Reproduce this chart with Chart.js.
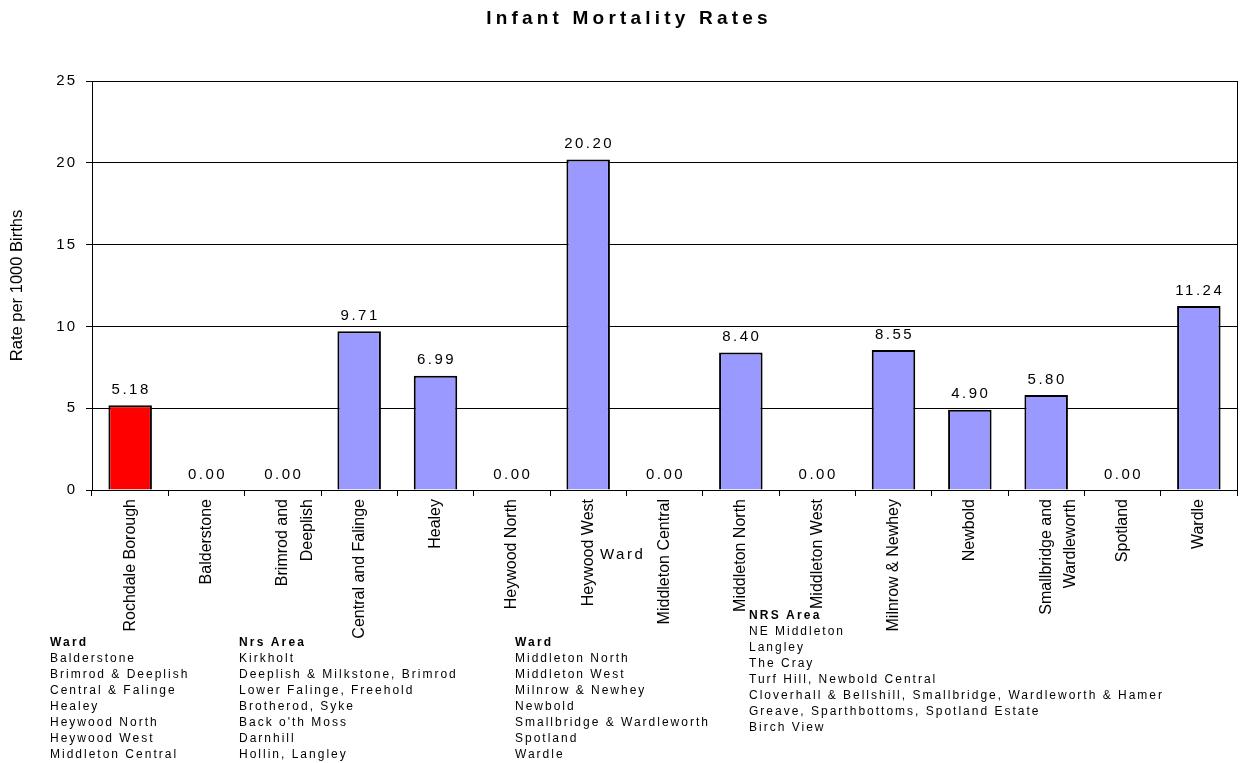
<!DOCTYPE html>
<html>
<head>
<meta charset="utf-8">
<script src="https://cdn.jsdelivr.net/npm/chart.js@4/dist/chart.umd.min.js"></script>
<style>
  body { margin: 0; background: #fff; font-family: "Liberation Sans", Arial, sans-serif; }
  #wrap { position: relative; width: 1242px; height: 763px; overflow: hidden; }
  #chart { position: absolute; left: 0; top: 0; }
  .title { position: absolute; top: 7px; left: 0; width: 1258px; text-align: center;
           font-weight: bold; font-size: 19px; letter-spacing: 4.2px; color: #000; }
  .axisname { position: absolute; left: 600px; top: 545px; font-size: 15px; letter-spacing: 2.5px; color: #000; }
  .key { position: absolute; font-size: 12px; line-height: 16px; letter-spacing: 2px; color: #000; white-space: nowrap; }
  .key b { letter-spacing: 2.2px; }
</style>
</head>
<body>
<div id="wrap">
  <canvas id="chart" width="1242" height="763"></canvas>
  <div class="title">Infant Mortality Rates</div>
  <div class="axisname">Ward</div>
  <div class="key" id="k1" style="left:50px; top:634px;"></div>
  <div class="key" id="k2" style="left:239px; top:634px;"></div>
  <div class="key" id="k3" style="left:515px; top:634px;"></div>
  <div class="key" id="k4" style="left:749px; top:607px;"></div>
</div>
<script>
// chart data
const categories = [
    "Rochdale Borough", "Balderstone", ["Brimrod and", "Deeplish"], "Central and Falinge",
    "Healey", "Heywood North", "Heywood West", "Middleton Central", "Middleton North",
    "Middleton West", "Milnrow & Newhey", "Newbold", ["Smallbridge and", "Wardleworth"],
    "Spotland", "Wardle"
];
const rates = [5.18, 0, 0, 9.71, 6.99, 0, 20.20, 0, 8.40, 0, 8.55, 4.90, 5.80, 0, 11.24];
const yTicks = [0, 5, 10, 15, 20, 25];

// lookup table under the chart
const wardsA = ["Balderstone", "Brimrod & Deeplish", "Central & Falinge", "Healey",
    "Heywood North", "Heywood West", "Middleton Central"];
const areasA = ["Kirkholt", "Deeplish & Milkstone, Brimrod", "Lower Falinge, Freehold",
    "Brotherod, Syke", "Back o'th Moss", "Darnhill", "Hollin, Langley"];
const wardsB = ["Middleton North", "Middleton West", "Milnrow & Newhey", "Newbold",
    "Smallbridge & Wardleworth", "Spotland", "Wardle"];
const areasB = ["NE Middleton", "Langley", "The Cray", "Turf Hill, Newbold Central",
    "Cloverhall & Bellshill, Smallbridge, Wardleworth & Hamer",
    "Greave, Sparthbottoms, Spotland Estate", "Birch View"];

function fillKey(id, head, rows) {
    const el = document.getElementById(id);
    el.innerHTML = "<b>" + head + "</b><br>" + rows.join("<br>");
}
fillKey("k1", "Ward", wardsA);
fillKey("k2", "Nrs Area", areasA);
fillKey("k3", "Ward", wardsB);
fillKey("k4", "NRS Area", areasB);

const FONT = "'Liberation Sans', Arial, sans-serif";

// value labels above bars, spaced y tick labels, right border of plot
const extras = {
    id: "extras",
    afterDatasetsDraw(chart) {
        const ctx = chart.ctx;
        const meta = chart.getDatasetMeta(0);
        ctx.save();
        ctx.font = "15px " + FONT;
        ctx.letterSpacing = "2.5px";
        ctx.fillStyle = "#000";
        ctx.textAlign = "center";
        ctx.textBaseline = "bottom";
        meta.data.forEach((bar, i) => {
            ctx.fillText(rates[i].toFixed(2), bar.x + 1, bar.y - 8);
        });
        ctx.restore();
    },
    afterDraw(chart) {
        const a = chart.chartArea;
        const ctx = chart.ctx;
        const y = chart.scales.y;
        ctx.save();
        ctx.strokeStyle = "#000";
        ctx.lineWidth = 1;
        ctx.beginPath();
        ctx.moveTo(Math.round(a.right) + 0.5, a.top);
        ctx.lineTo(Math.round(a.right) + 0.5, a.bottom);
        ctx.stroke();

        ctx.font = "15px " + FONT;
        ctx.letterSpacing = "2px";
        ctx.fillStyle = "#000";
        ctx.textAlign = "right";
        ctx.textBaseline = "middle";
        yTicks.forEach(v => {
            ctx.fillText(String(v), a.left - 15, y.getPixelForValue(v));
        });
        ctx.restore();
    }
};

const ctx = document.getElementById("chart").getContext("2d");
const chart = new Chart(ctx, {
    type: "bar",
    data: {
        labels: categories,
        datasets: [{
            data: rates,
            backgroundColor: c => c.dataIndex === 0 ? "#ff0000" : "#9999ff",
            borderColor: "#000",
            borderWidth: 2,
            barPercentage: 0.57,
            categoryPercentage: 1
        }]
    },
    options: {
        responsive: false,
        animation: false,
        layout: { padding: { top: 81, right: 5, left: 0, bottom: 0 } },
        plugins: {
            legend: { display: false },
            tooltip: { enabled: false },
            title: { display: false }
        },
        scales: {
            x: {
                grid: { offset: true, drawOnChartArea: false, tickLength: 6, color: "#000" },
                border: { color: "#000" },
                ticks: {
                    font: { family: FONT, size: 16, lineHeight: 1.55 },
                    color: "#000",
                    minRotation: 90,
                    maxRotation: 90,
                    autoSkip: false,
                    padding: 3
                },
                afterFit: s => { s.height = 763 - 490; }
            },
            y: {
                min: 0,
                max: 25,
                afterBuildTicks: s => { s.ticks = yTicks.map(v => ({ value: v })); },
                grid: { color: "#000", tickLength: 6 },
                border: { color: "#000" },
                ticks: { display: false },
                title: {
                    display: true,
                    text: "Rate per 1000 Births",
                    font: { family: FONT, size: 16.5 },
                    color: "#000",
                    padding: { top: 8, bottom: 0 }
                },
                afterFit: s => { s.width = 92; }
            }
        }
    },
    plugins: [extras]
});
</script>
</body>
</html>
